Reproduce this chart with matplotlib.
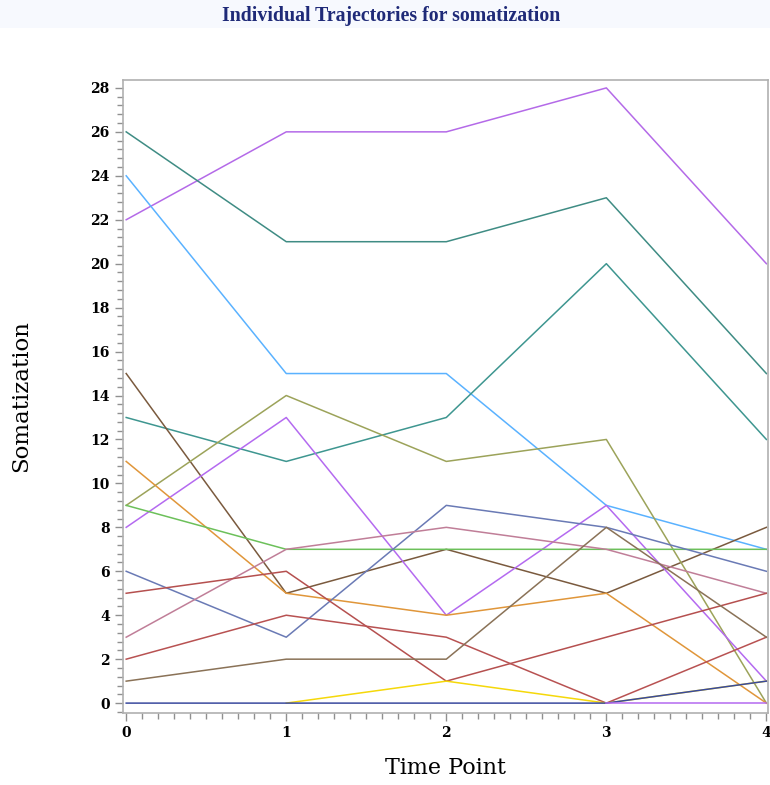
import numpy as np
import matplotlib
matplotlib.use("Agg")
import matplotlib.pyplot as plt
from matplotlib.ticker import MultipleLocator
from matplotlib.patches import Rectangle

nan = np.nan
time_points = [0, 1, 2, 3, 4]

s01 = [22, 26, 26, 28, 20]
s02 = [26, 21, 21, 23, 15]
s03 = [24, 15, 15, 9, 7]
s04 = [13, 11, 13, 20, 12]
s05 = [15, 5, 7, 5, 8]
s06 = [9, 14, 11, 12, 0]
s07 = [8, 13, 4, 9, 1]
s08 = [11, 5, 4, 5, 0]
s09 = [9, 7, 7, 7, 7]
s10 = [6, 3, 9, 8, 6]
s11 = [3, 7, 8, 7, 5]
s12 = [5, 6, 1, 3, 5]
s13 = [2, 4, 3, 0, 3]
s14 = [1, 2, 2, 8, 3]
s15 = [nan, 0, 1, 0, 1]
s16 = [0, 0, 0, 0, 1]
s17 = [nan, nan, nan, 0, 0]

series = [s01, s02, s03, s04, s05, s06, s07, s08, s09, s10, s11, s12, s13, s14, s15, s16, s17]
colors = ["#B46AE8", "#3F8C84", "#5AB2FF", "#3E9690", "#7A5A3E", "#9CA35A",
          "#B46AF0", "#E0963A", "#6CC05A", "#6A7AB5", "#C07E98", "#B5504F",
          "#B85252", "#8A7257", "#F5D80A", "#3A4A9E", "#B46AF0"]

y_ticks = list(range(0, 29, 2))

fig = plt.figure(figsize=(7.7, 7.85), dpi=100)
fig.patches.append(Rectangle((0.0, 1 - 28 / 785), 1.0, 28 / 785, transform=fig.transFigure,
                             facecolor="#F7F9FE", edgecolor="none", zorder=0))
fig.text(0.508, 1 - 16 / 785, "Individual Trajectories for somatization", ha="center", va="center",
         fontsize=14.3, fontweight="bold", family="Liberation Serif", color="#1F2A78")

ax = fig.add_axes([123 / 770, 1 - 713 / 785, 645 / 770, 633 / 785])
for s, c in zip(series, colors):
    ax.plot(time_points, s, color=c, lw=1.1)

ax.set_xlim(-0.02, 4.01)
ax.set_ylim(-0.45, 28.36)
ax.set_xticks(time_points)
ax.set_yticks(y_ticks)
ax.xaxis.set_minor_locator(MultipleLocator(0.1))
ax.yaxis.set_minor_locator(MultipleLocator(0.4))
for sp in ax.spines.values():
    sp.set_color("#B0B0B0")
    sp.set_linewidth(1.2)
ax.tick_params(which="both", color="#909090", width=1.0, direction="out")
ax.tick_params(which="major", length=6)
ax.tick_params(which="minor", length=4)
for lab in ax.get_xticklabels() + ax.get_yticklabels():
    lab.set_family("DejaVu Serif")
    lab.set_fontweight("bold")
    lab.set_fontsize(10)

ax.set_xlabel("Time Point", family="DejaVu Serif", fontsize=16, labelpad=12)
ax.set_ylabel("Somatization", family="DejaVu Serif", fontsize=16.5, labelpad=42)

fig.savefig("out.png", dpi=100)
